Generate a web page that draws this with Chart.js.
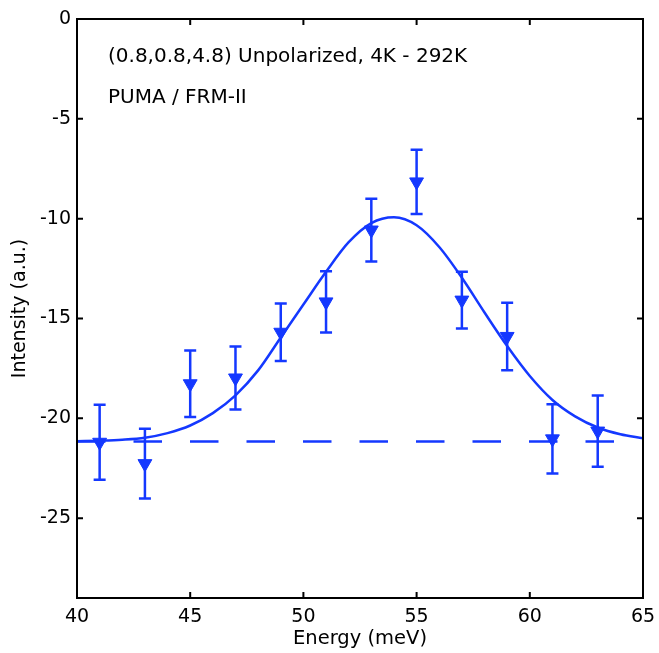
<!DOCTYPE html>
<html><head><meta charset="utf-8">
<script src="https://cdn.jsdelivr.net/npm/chart.js@4.4.1/dist/chart.umd.min.js"></script>
<style>html,body{margin:0;padding:0;background:#fff;}#wrap{width:659px;height:653px;position:relative;}</style>
</head><body><div id="wrap"><canvas id="c"></canvas></div>
<script>
// ---- data ----
const energy     = [41, 43, 45, 47, 49, 51, 53, 55, 57, 59, 61, 63];
const intensity  = [-21.2, -22.27, -18.27, -17.98, -15.69, -14.17, -10.57, -8.16, -14.08, -15.9, -21.03, -20.64];
const errors     = [1.88, 1.75, 1.67, 1.58, 1.44, 1.53, 1.57, 1.61, 1.42, 1.69, 1.73, 1.78];
const fitEnergy    = [40, 41, 42, 43, 44, 45, 46, 47, 48, 49, 50, 51, 52, 53, 54, 55, 56, 57, 58, 59, 60, 61, 62, 63, 64, 65];
const fitIntensity = [-21.15, -21.12, -21.07, -20.97, -20.74, -20.36, -19.74, -18.85, -17.6, -15.95, -14.3, -12.66, -11.18, -10.22, -9.93, -10.33, -11.42, -12.96, -14.7, -16.38, -17.88, -19.08, -19.9, -20.46, -20.8, -21.0];
const baselineEnergy    = [40, 65];
const baselineIntensity = [-21.16, -21.16];
const xTicks = [40, 45, 50, 55, 60, 65];
const xTickLabels = ['40', '45', '50', '55', '60', '65'];
const yTicks = [0, -5, -10, -15, -20, -25];
const yTickLabels = ['0', '-5', '-10', '-15', '-20', '-25'];
const xTitle = 'Energy (meV)';
const yTitle = 'Intensity (a.u.)';
const annotationLines = ['(0.8,0.8,4.8) Unpolarized, 4K - 292K', 'PUMA / FRM-II'];

// ---- styling ----
const BLUE = '#1438ff';
const FONT = 'DejaVu Sans';

const toPts = (xs, ys) => xs.map((x, i) => ({x: x, y: ys[i]}));

const framePlugin = {
  id: 'frame',
  beforeDatasetsDraw(chart) {
    const ctx = chart.ctx, xs = chart.scales.x, ys = chart.scales.y;
    ctx.save();
    ctx.strokeStyle = BLUE;
    ctx.lineWidth = 2.5;
    energy.forEach((e, i) => {
      const px = xs.getPixelForValue(e);
      const pTop = ys.getPixelForValue(intensity[i] + errors[i]);
      const pBot = ys.getPixelForValue(intensity[i] - errors[i]);
      ctx.beginPath();
      ctx.moveTo(px, pTop); ctx.lineTo(px, pBot);
      ctx.moveTo(px - 6, pTop); ctx.lineTo(px + 6, pTop);
      ctx.moveTo(px - 6, pBot); ctx.lineTo(px + 6, pBot);
      ctx.stroke();
    });
    ctx.restore();
  },
  afterDraw(chart) {
    const ctx = chart.ctx, a = chart.chartArea, xs = chart.scales.x, ys = chart.scales.y;
    ctx.save();
    ctx.strokeStyle = '#000';
    ctx.lineWidth = 2;
    ctx.beginPath();
    xTicks.forEach(v => {
      const p = xs.getPixelForValue(v);
      ctx.moveTo(p, a.bottom); ctx.lineTo(p, a.bottom - 6);
      ctx.moveTo(p, a.top); ctx.lineTo(p, a.top + 6);
    });
    yTicks.forEach(v => {
      const p = ys.getPixelForValue(v);
      ctx.moveTo(a.left, p); ctx.lineTo(a.left + 6, p);
      ctx.moveTo(a.right, p); ctx.lineTo(a.right - 6, p);
    });
    ctx.stroke();
    ctx.strokeRect(a.left, a.top, a.right - a.left, a.bottom - a.top);
    ctx.fillStyle = '#000';
    ctx.font = '20px "' + FONT + '"';
    ctx.textBaseline = 'alphabetic';
    ctx.textAlign = 'left';
    ctx.fillText(annotationLines[0], a.left + 31, a.top + 43);
    ctx.fillText(annotationLines[1], a.left + 31, a.top + 84);
    ctx.restore();
  }
};

new Chart(document.getElementById('c'), {
  type: 'scatter',
  data: {
    datasets: [
      {
        data: toPts(energy, intensity),
        showLine: false,
        pointStyle: 'triangle',
        rotation: 180,
        pointRadius: 8,
        pointBorderWidth: 1,
        backgroundColor: BLUE,
        borderColor: BLUE,
        order: 0
      },
      {
        data: toPts(fitEnergy, fitIntensity),
        showLine: true,
        pointRadius: 0,
        borderColor: BLUE,
        borderWidth: 2.5,
        cubicInterpolationMode: 'monotone',
        fill: false,
        order: 1
      },
      {
        data: toPts(baselineEnergy, baselineIntensity),
        showLine: true,
        pointRadius: 0,
        borderColor: BLUE,
        borderWidth: 2.5,
        borderDash: [28.5, 28],
        fill: false,
        order: 2
      }
    ]
  },
  options: {
    responsive: true,
    maintainAspectRatio: false,
    animation: false,
    layout: {padding: {top: 19, right: 16, left: 0, bottom: 0}},
    plugins: {legend: {display: false}, tooltip: {enabled: false}},
    scales: {
      x: {
        type: 'linear', min: 40, max: 65,
        afterBuildTicks: s => { s.ticks = xTicks.map(v => ({value: v})); },
        afterFit: s => { s.height = 55; s.paddingLeft = 0; s.paddingRight = 0; },
        ticks: {
          callback: v => xTickLabels[xTicks.indexOf(v)],
          color: '#000', font: {family: FONT, size: 19}, padding: 8,
          maxRotation: 0, autoSkip: false
        },
        grid: {display: false, drawTicks: false},
        border: {display: false},
        title: {display: true, text: xTitle, color: '#000', font: {family: FONT, size: 19.5}, padding: {top: 0, bottom: 2}}
      },
      y: {
        type: 'linear', min: -29, max: 0,
        afterBuildTicks: s => { s.ticks = yTicks.map(v => ({value: v})); },
        afterFit: s => { s.width = 77; s.paddingTop = 0; s.paddingBottom = 0; },
        ticks: {
          callback: v => yTickLabels[yTicks.indexOf(v)],
          color: '#000', font: {family: FONT, size: 19}, padding: 6, autoSkip: false
        },
        grid: {display: false, drawTicks: false},
        border: {display: false},
        title: {display: true, text: yTitle, color: '#000', font: {family: FONT, size: 19}, padding: {top: 9, bottom: 0}}
      }
    }
  },
  plugins: [framePlugin]
});
</script>
</body></html>
